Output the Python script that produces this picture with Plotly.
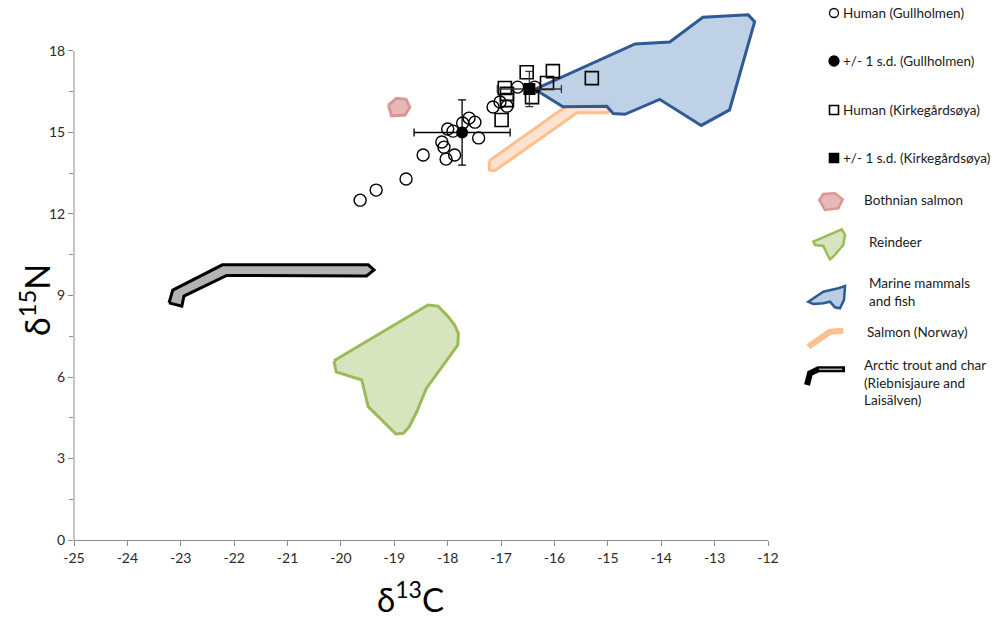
import plotly.graph_objects as go

# ---------------- data ----------------
gull_c = [-19.64, -19.34, -18.78, -18.46, -18.11, -18.07, -18.03, -17.87, -18.00, -17.90,
          -17.72, -17.60, -17.49, -17.42, -17.15, -17.02, -16.89, -16.69, -16.37]
gull_n = [12.51, 12.88, 13.29, 14.17, 14.65, 14.46, 14.02, 14.17, 15.13, 15.05,
          15.35, 15.53, 15.38, 14.80, 15.94, 16.12, 15.97, 16.67, 16.67]
gull_mean_c = [-17.73]
gull_mean_n = [15.0]
gull_sd_c = [0.9]
gull_sd_n = [1.2]

kirk_c = [-16.52, -16.03, -16.14, -15.30, -16.93, -16.89, -16.89, -16.99, -16.42]
kirk_n = [17.22, 17.26, 16.82, 17.00, 16.64, 16.42, 16.19, 15.46, 16.30]
kirk_mean_c = [-16.47]
kirk_mean_n = [16.6]
kirk_sd_c = [0.6]
kirk_sd_n = [0.65]

bothnian_c = [-19.11, -18.96, -18.78, -18.71, -18.80, -19.05, -19.11]
bothnian_n = [16.01, 16.26, 16.22, 15.93, 15.64, 15.61, 16.01]

reindeer_c = [-20.13, -18.37, -18.18, -17.99, -17.87, -17.80, -17.81, -18.40, -18.58,
              -18.72, -18.83, -18.97, -19.49, -19.61, -20.09, -20.13]
reindeer_n = [6.60, 8.65, 8.61, 8.22, 7.91, 7.61, 7.18, 5.58, 4.72,
              4.17, 3.93, 3.90, 4.91, 5.89, 6.19, 6.60]

marine_c = [-16.37, -14.49, -13.84, -13.22, -12.37, -12.25, -12.72, -13.25, -14.03,
            -14.68, -14.90, -15.02, -15.84, -16.37]
marine_n = [16.59, 18.26, 18.33, 19.24, 19.33, 19.08, 15.83, 15.26, 16.22,
            15.67, 15.70, 15.97, 15.95, 16.59]

salmon_c = [-17.22, -15.67, -15.02, -14.94, -15.00, -15.58, -17.12, -17.22, -17.22]
salmon_n = [13.96, 16.12, 16.16, 15.97, 15.73, 15.73, 13.59, 13.62, 13.96]

trout_c = [-23.22, -23.15, -22.22, -19.49, -19.38, -19.52, -22.14, -22.94, -22.98, -23.22]
trout_n = [8.73, 9.20, 10.13, 10.13, 9.94, 9.72, 9.74, 8.98, 8.61, 8.73]

x_ticks = list(range(-25, -11))
y_ticks = [0, 3, 6, 9, 12, 15, 18]

legend_labels = ["Human (Gullholmen)", "+/- 1 s.d. (Gullholmen)", "Human (Kirkegårdsøya)",
                 "+/- 1 s.d. (Kirkegårdsøya)", "Bothnian salmon", "Reindeer",
                 "Marine mammals<br>and fish", "Salmon (Norway)",
                 "Arctic trout and char<br>(Riebnisjaure and<br>Laisälven)"]

# ---------------- layout constants ----------------
W, H = 996, 619
L, R, T, B = 74, 228, 1, 79
PW, PH = W - L - R, H - T - B
YTOP = 19.84
FONT = "Lato"


def px(x, y):
    """pixel -> paper coordinates (for legend decorations)"""
    return (x - L) / PW, (H - B - y) / PH


def path(points):
    s = ""
    for i, (x, y) in enumerate(points):
        X, Y = px(x, y)
        s += ("M" if i == 0 else "L") + f"{X:.4f},{Y:.4f}"
    return s


fig = go.Figure()

poly_style = dict(mode="lines", fill="toself", hoverinfo="skip", showlegend=False)
fig.add_trace(go.Scatter(x=trout_c, y=trout_n, fillcolor="#b3b3b3",
                         line=dict(color="black", width=3), **poly_style))
fig.add_trace(go.Scatter(x=reindeer_c, y=reindeer_n, fillcolor="#d7e4bd",
                         line=dict(color="#9bbb59", width=3), **poly_style))
fig.add_trace(go.Scatter(x=bothnian_c, y=bothnian_n, fillcolor="#e6b9b8",
                         line=dict(color="#d99694", width=3), **poly_style))
fig.add_trace(go.Scatter(x=salmon_c, y=salmon_n, fillcolor="#fde3cf",
                         line=dict(color="#fac090", width=3), **poly_style))
fig.add_trace(go.Scatter(x=marine_c, y=marine_n, fillcolor="rgba(185,205,229,0.93)",
                         line=dict(color="#2f5a94", width=3), **poly_style))

fig.add_trace(go.Scatter(x=gull_c, y=gull_n, mode="markers", showlegend=False,
                         marker=dict(symbol="circle-open", size=12,
                                     line=dict(color="black", width=1.4), color="black")))
fig.add_trace(go.Scatter(x=kirk_c, y=kirk_n, mode="markers", showlegend=False,
                         marker=dict(symbol="square-open", size=13,
                                     line=dict(color="black", width=1.6), color="black")))
fig.add_trace(go.Scatter(x=gull_mean_c, y=gull_mean_n, mode="markers", showlegend=False,
                         marker=dict(symbol="circle", size=12, color="black"),
                         error_x=dict(type="data", array=gull_sd_c, color="black", thickness=1.3, width=4),
                         error_y=dict(type="data", array=gull_sd_n, color="black", thickness=1.3, width=4)))
fig.add_trace(go.Scatter(x=kirk_mean_c, y=kirk_mean_n, mode="markers", showlegend=False,
                         marker=dict(symbol="square", size=12, color="black"),
                         error_x=dict(type="data", array=kirk_sd_c, color="#333", thickness=1.3, width=4),
                         error_y=dict(type="data", array=kirk_sd_n, color="#333", thickness=1.3, width=4)))

shapes = []
# y axis line (only up to 18)
shapes.append(dict(type="line", xref="paper", yref="y", x0=0, x1=0, y0=0, y1=18,
                   line=dict(color="#8c8c8c", width=1)))

# legend decorations
def circ(cx, cy, r, fill):
    x0, y0 = px(cx - r, cy + r)
    x1, y1 = px(cx + r, cy - r)
    return dict(type="circle", xref="paper", yref="paper", x0=x0, y0=y0, x1=x1, y1=y1,
                line=dict(color="black", width=1.3), fillcolor=fill)


def sq(cx, cy, r, fill):
    x0, y0 = px(cx - r, cy + r)
    x1, y1 = px(cx + r, cy - r)
    return dict(type="rect", xref="paper", yref="paper", x0=x0, y0=y0, x1=x1, y1=y1,
                line=dict(color="black", width=1.6), fillcolor=fill)


shapes.append(circ(834, 13, 4.5, "white"))
shapes.append(circ(834, 61, 5, "black"))
shapes.append(sq(834, 110, 4.5, "white"))
shapes.append(sq(834, 158, 4.5, "black"))
shapes.append(dict(type="path", xref="paper", yref="paper",
                   path=path([(819.3, 200), (823.3, 194), (835, 193.3), (842.7, 199.3),
                              (838.3, 208.3), (825, 210)]) + "Z",
                   fillcolor="#e6b9b8", line=dict(color="#d99694", width=2.5)))
shapes.append(dict(type="path", xref="paper", yref="paper",
                   path=path([(813.3, 241.7), (841.7, 229.3), (845, 235), (843.3, 245),
                              (833.3, 256.7), (830, 259.3), (826.7, 253.3), (823.3, 246),
                              (815, 245)]) + "Z",
                   fillcolor="#d7e4bd", line=dict(color="#9bbb59", width=2.5)))
shapes.append(dict(type="path", xref="paper", yref="paper",
                   path=path([(808.3, 301.7), (823.3, 291.7), (838.3, 288.3), (845, 286),
                              (844, 300), (840, 308.3), (835, 307.3), (830, 301.7),
                              (823.3, 303.3), (813.3, 304)]) + "Z",
                   fillcolor="#b9cde5", line=dict(color="#2f5a94", width=2.5)))
shapes.append(dict(type="path", xref="paper", yref="paper",
                   path=path([(808.3, 346.7), (830, 331.7), (843.3, 330.7)]),
                   line=dict(color="#fac090", width=6)))
shapes.append(dict(type="path", xref="paper", yref="paper",
                   path=path([(807, 385), (810, 373.3), (818.3, 369.3), (845, 369.3)]),
                   line=dict(color="black", width=6)))
shapes.append(dict(type="path", xref="paper", yref="paper",
                   path=path([(819, 369.3), (842, 369.3)]),
                   line=dict(color="#b3b3b3", width=1.5)))

annotations = []
leg_pos = [(841, 13), (841, 61), (841, 110), (841, 158), (862, 200), (867, 242),
           (867, 292), (865, 332), (862, 382)]
for (lx, ly), lab in zip(leg_pos, legend_labels):
    X, Y = px(lx, ly)
    annotations.append(dict(x=X, y=Y, xref="paper", yref="paper", text=lab, showarrow=False,
                            xanchor="left", yanchor="middle", align="left",
                            font=dict(family=FONT, size=13.5, color="#1a1a1a")))

# axis titles
X, Y = px(410, 597)
annotations.append(dict(x=X, y=Y, xref="paper", yref="paper", text="δ<sup>13</sup>C",
                        showarrow=False, xanchor="center", yanchor="middle",
                        font=dict(family=FONT, size=33, color="black")))
X, Y = px(35, 300)
annotations.append(dict(x=X, y=Y, xref="paper", yref="paper", text="δ<sup>15</sup>N",
                        showarrow=False, xanchor="center", yanchor="middle", textangle=-90,
                        font=dict(family=FONT, size=34, color="black")))

fig.update_layout(
    width=W, height=H,
    margin=dict(l=L, r=R, t=T, b=B, autoexpand=False),
    paper_bgcolor="white", plot_bgcolor="white",
    shapes=shapes, annotations=annotations,
    showlegend=False,
    xaxis=dict(range=[-25, -12], tickvals=x_ticks, ticktext=[str(v) for v in x_ticks],
               showgrid=False, zeroline=False, showline=True, linecolor="#8c8c8c", linewidth=1,
               ticks="outside", ticklen=5, tickcolor="#8c8c8c",
               tickfont=dict(family=FONT, size=14, color="#2a2a2a")),
    yaxis=dict(range=[0, YTOP], tickvals=y_ticks, ticktext=[str(v) for v in y_ticks],
               showgrid=False, zeroline=False, showline=False,
               ticks="outside", ticklen=5, tickcolor="#8c8c8c",
               tickfont=dict(family=FONT, size=14, color="#2a2a2a"),
               minor=dict(tickvals=[1.5, 4.5, 7.5, 10.5, 13.5, 16.5], ticks="outside",
                          ticklen=4, tickcolor="#8c8c8c")),
)

fig.write_html("out.html")
